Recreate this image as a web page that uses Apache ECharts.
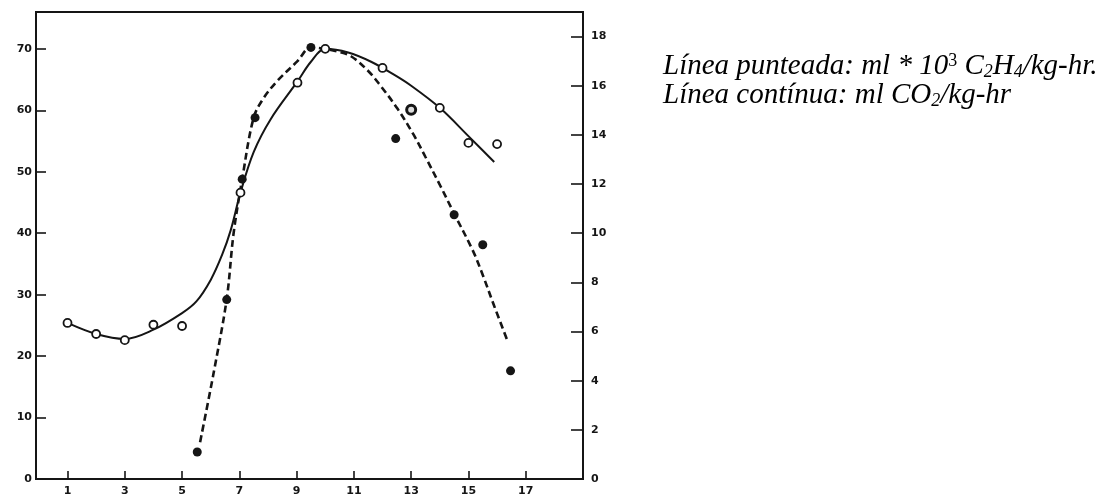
<!DOCTYPE html>
<html>
<head>
<meta charset="utf-8">
<script src="https://cdn.jsdelivr.net/npm/echarts@6/dist/echarts.min.js"></script>
<style>
html,body{margin:0;padding:0;background:#fff}
#c{width:1117px;height:497px}
</style>
</head>
<body>
<div id="c"></div>
<script>
// ---- tick labels ----
const xTicks = [1, 3, 5, 7, 9, 11, 13, 15, 17];
const leftTicks = [0, 10, 20, 30, 40, 50, 60, 70];
const rightTicks = [0, 2, 4, 6, 8, 10, 12, 14, 16, 18];

// ---- CO2 (open circles, left axis) ----
const co2Days = [1, 2, 3, 4, 5, 7.04, 9.03, 10, 12, 14, 15, 16];
const co2Values = [25.4, 23.6, 22.6, 25.1, 24.9, 46.6, 64.5, 70, 66.9, 60.4, 54.7, 54.5];

// dark ring point near day 13 (left axis)
const ringDays = [13];
const ringValues = [60.1];

// CO2 solid curve
const co2CurveDays = [1, 2, 3, 4, 5, 5.5, 6, 6.4, 6.7, 7.04, 7.5, 8.1, 9.03, 9.5, 10, 10.8, 11.6, 12.4, 13, 14, 15, 15.9];
const co2CurveValues = [25.4, 23.6, 22.8, 24.3, 27.0, 28.9, 32.4, 36.5, 40.5, 46.6, 53.2, 58.6, 64.7, 67.9, 70, 69.4, 67.9, 65.8, 64.0, 60.4, 55.8, 51.6];

// ---- Ethylene (filled dots, right axis) ----
const ethDays = [5.53, 6.56, 7.1, 7.55, 9.5, 12.46, 14.5, 15.5, 16.47];
const ethValues = [1.1, 7.3, 12.2, 14.7, 17.56, 13.85, 10.75, 9.53, 4.4];

// Ethylene dashed curve
const ethCurveDays = [5.63, 6.1, 6.56, 6.8, 7.1, 7.5, 7.85, 8.33, 9.03, 9.5, 10.0, 10.4, 10.9, 11.5, 11.93, 12.52, 13.09, 13.5, 14.03, 14.5, 15.15, 15.5, 15.88, 16.37];
const ethCurveValues = [1.5, 4.3, 7.33, 10.0, 12.2, 14.7, 15.5, 16.2, 17.0, 17.56, 17.5, 17.4, 17.2, 16.6, 16.0, 15.07, 14.0, 13.1, 11.9, 10.8, 9.3, 8.3, 7.1, 5.6];

const zip = (a, b) => a.map((v, i) => [v, b[i]]);
const ink = '#151515';
const labelStyle = { color: ink, fontFamily: 'DejaVu Sans', fontWeight: 'bold', fontSize: 11 };

const chart = echarts.init(document.getElementById('c'), null, { renderer: 'canvas' });
chart.setOption({
  animation: false,
  backgroundColor: '#fff',
  grid: { left: 36, top: 12, right: 534, bottom: 17, show: true, borderColor: ink, borderWidth: 2, containLabel: false },
  xAxis: {
    type: 'value', min: -0.1, max: 19,
    axisLine: { onZero: false, lineStyle: { color: ink, width: 2 } },
    axisTick: { inside: true, length: 8, customValues: xTicks, lineStyle: { color: ink, width: 1.6 } },
    axisLabel: Object.assign({ customValues: xTicks, margin: 7 }, labelStyle),
    splitLine: { show: false }
  },
  yAxis: [
    {
      type: 'value', min: 0, max: 76, position: 'left',
      axisLine: { show: true, onZero: false, lineStyle: { color: ink, width: 2 } },
      axisTick: { show: true, inside: true, length: 10, customValues: leftTicks, lineStyle: { color: ink, width: 1.6 } },
      axisLabel: Object.assign({ customValues: leftTicks, margin: 4 }, labelStyle),
      splitLine: { show: false }
    },
    {
      type: 'value', min: 0, max: 19, position: 'right',
      axisLine: { show: true, onZero: false, lineStyle: { color: ink, width: 2 } },
      axisTick: { show: true, inside: true, length: 12, customValues: rightTicks, lineStyle: { color: ink, width: 1.6 } },
      axisLabel: Object.assign({ customValues: rightTicks, margin: 8 }, labelStyle),
      splitLine: { show: false }
    }
  ],
  series: [
    {
      name: 'CO2 curve', type: 'line', yAxisIndex: 0, data: zip(co2CurveDays, co2CurveValues),
      smooth: 0.35, showSymbol: false, lineStyle: { color: ink, width: 2 }, z: 2
    },
    {
      name: 'C2H4 curve', type: 'line', yAxisIndex: 1, data: zip(ethCurveDays, ethCurveValues),
      smooth: 0.35, showSymbol: false, lineStyle: { color: ink, width: 2.6, type: [7, 4] }, z: 2
    },
    {
      name: 'CO2', type: 'scatter', yAxisIndex: 0, data: zip(co2Days, co2Values),
      symbol: 'circle', symbolSize: 8,
      itemStyle: { color: '#fff', borderColor: ink, borderWidth: 1.8, opacity: 1 }, z: 4
    },
    {
      name: 'ring', type: 'scatter', yAxisIndex: 0, data: zip(ringDays, ringValues),
      symbol: 'circle', symbolSize: 9,
      itemStyle: { color: '#ddd', borderColor: ink, borderWidth: 3, opacity: 1 }, z: 4
    },
    {
      name: 'C2H4', type: 'scatter', yAxisIndex: 1, data: zip(ethDays, ethValues),
      symbol: 'circle', symbolSize: 9,
      itemStyle: { color: ink, opacity: 1 }, z: 4
    }
  ],
  graphic: [
    {
      type: 'text', left: 663, top: 52, z: 10,
      style: {
        text: '{a|Línea punteada: ml * 10}{sup|3}{a| C}{sub|2}{a|H}{sub|4}{a|/kg-hr.}\n{a|Línea contínua: ml CO}{sub|2}{a|/kg-hr}',
        fill: '#000',
        rich: {
          a: { fontFamily: 'Liberation Serif', fontStyle: 'italic', fontSize: 29, lineHeight: 29, fill: '#000' },
          sup: { fontFamily: 'Liberation Serif', fontStyle: 'normal', fontSize: 18, lineHeight: 12, verticalAlign: 'top', fill: '#000' },
          sub: { fontFamily: 'Liberation Serif', fontStyle: 'italic', fontSize: 18, lineHeight: 12, verticalAlign: 'bottom', fill: '#000' }
        }
      }
    }
  ]
});
</script>
</body>
</html>
